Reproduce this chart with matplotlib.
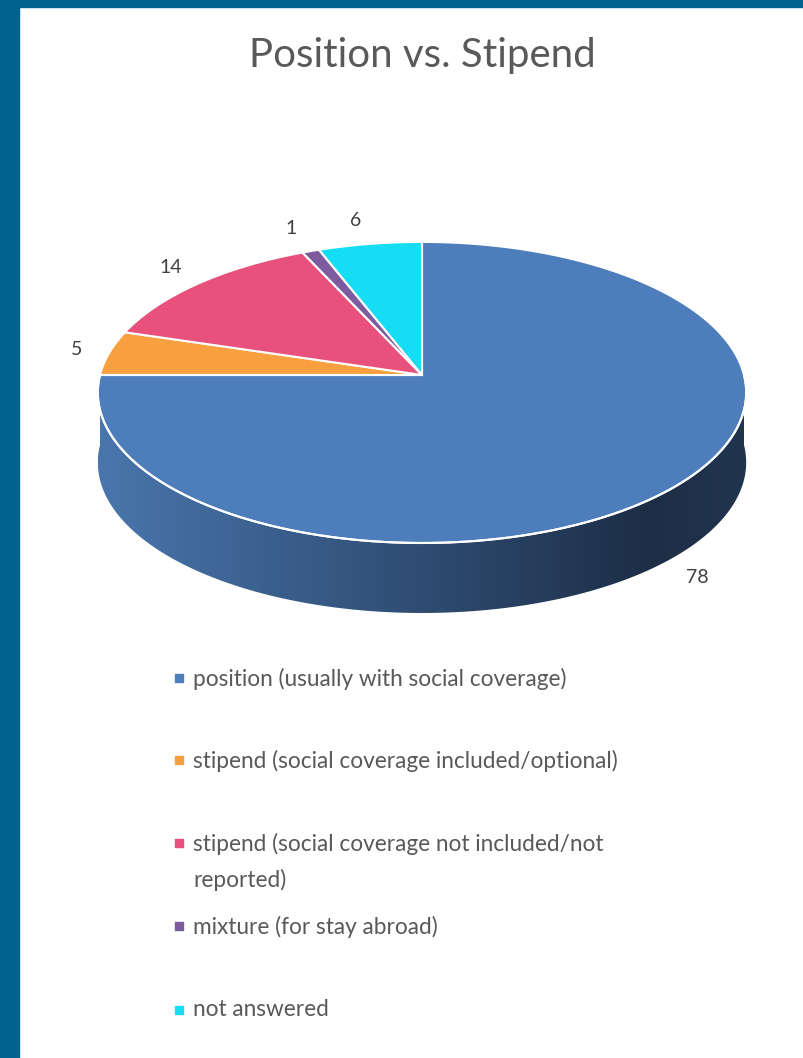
import numpy as np
import matplotlib.pyplot as plt
from matplotlib.patches import Polygon, Rectangle
from matplotlib.colors import LinearSegmentedColormap

plt.rcParams['font.family'] = ['Lato', 'DejaVu Sans']

# data
labels = ['position (usually with social coverage)',
          'stipend (social coverage included/optional)',
          'stipend (social coverage not included/not\nreported)',
          'mixture (for stay abroad)',
          'not answered']
values = [78, 5, 14, 1, 6]
colors = ['#4d7ebb', '#f8a03f', '#e8517c', '#7c5c9e', '#14ddf4']
title = 'Position vs. Stipend'

# pie geometry (pixels)
cx, cy = 422, 375
rx, ry = 322, 148.5
k = 0.116      # perspective
depth = 70


def proj(ang, r=1.0):
    # ang: degrees clockwise from 12 o'clock
    a = np.radians(ang)
    u = r * np.sin(a)
    v = r * np.cos(a)
    d = 1 + k * v
    return cx + rx * u / d, cy - ry * v / d


fig = plt.figure(figsize=(8.04, 10.58), dpi=100)
ax = fig.add_axes([0, 0, 1, 1])
ax.set_xlim(0, 804)
ax.set_ylim(1058, 0)
ax.axis('off')

# frame
ax.add_patch(Rectangle((0, 0), 19, 1058, color='#00628f', zorder=10))
ax.add_patch(Rectangle((0, 0), 804, 7, color='#00628f', zorder=10))

ax.text(422, 67, title, ha='center', va='baseline', fontsize=29, color='#595959')

# side of the pie (front half)
t = np.linspace(90, 270, 200)
tx, ty = proj(t)
side_x = np.concatenate([tx, tx[::-1]])
side_y = np.concatenate([ty, ty[::-1] + depth])
side = Polygon(np.column_stack([side_x, side_y]), closed=True,
               facecolor='none', edgecolor='none')
ax.add_patch(side)
cmap = LinearSegmentedColormap.from_list(
    'side', [(0, '#4976ad'), (0.5, '#2f4c72'), (0.85, '#1d2e46'), (1, '#22354f')])
grad = np.linspace(0, 1, 256).reshape(1, -1)
im = ax.imshow(grad, cmap=cmap, extent=(tx.min(), tx.max(), ty.max() + depth, cy - 5),
               aspect='auto', zorder=1)
im.set_clip_path(side)
ax.set_xlim(0, 804)
ax.set_ylim(1058, 0)

# top face
total = sum(values)
start = 0.0
for val, col in zip(values, colors):
    span = 360.0 * val / total
    a = np.linspace(start, start + span, max(int(span * 2), 4))
    px, py = proj(a)
    pts = np.column_stack([np.concatenate([[cx], px]), np.concatenate([[cy], py])])
    ax.add_patch(Polygon(pts, closed=True, facecolor=col, edgecolor='white',
                         linewidth=1.5, zorder=3))

    mid = start + span / 2
    lx, ly = proj(mid, 1.1)
    c = np.cos(np.radians(mid))
    if c < 0:
        ly += depth + 6
    else:
        lx -= 10 * c
        ly -= 12 * c
    ax.text(lx, ly, str(val), ha='center', va='center', fontsize=14,
            color='#404040', zorder=5)
    start += span

# white rim between top and side
ax.plot(tx, ty, color='white', linewidth=1.5, zorder=4)

# legend
rows = [685, 767, 850, 933, 1017]
for lab, col, yy in zip(labels, colors, rows):
    ax.add_patch(Rectangle((175, yy - 11), 8, 8, color=col, zorder=5))
    ax.text(193, yy - 17.5, lab, ha='left', va='top', fontsize=16.3,
            color='#595959', linespacing=1.78)

fig.savefig('out.png', dpi=100)
